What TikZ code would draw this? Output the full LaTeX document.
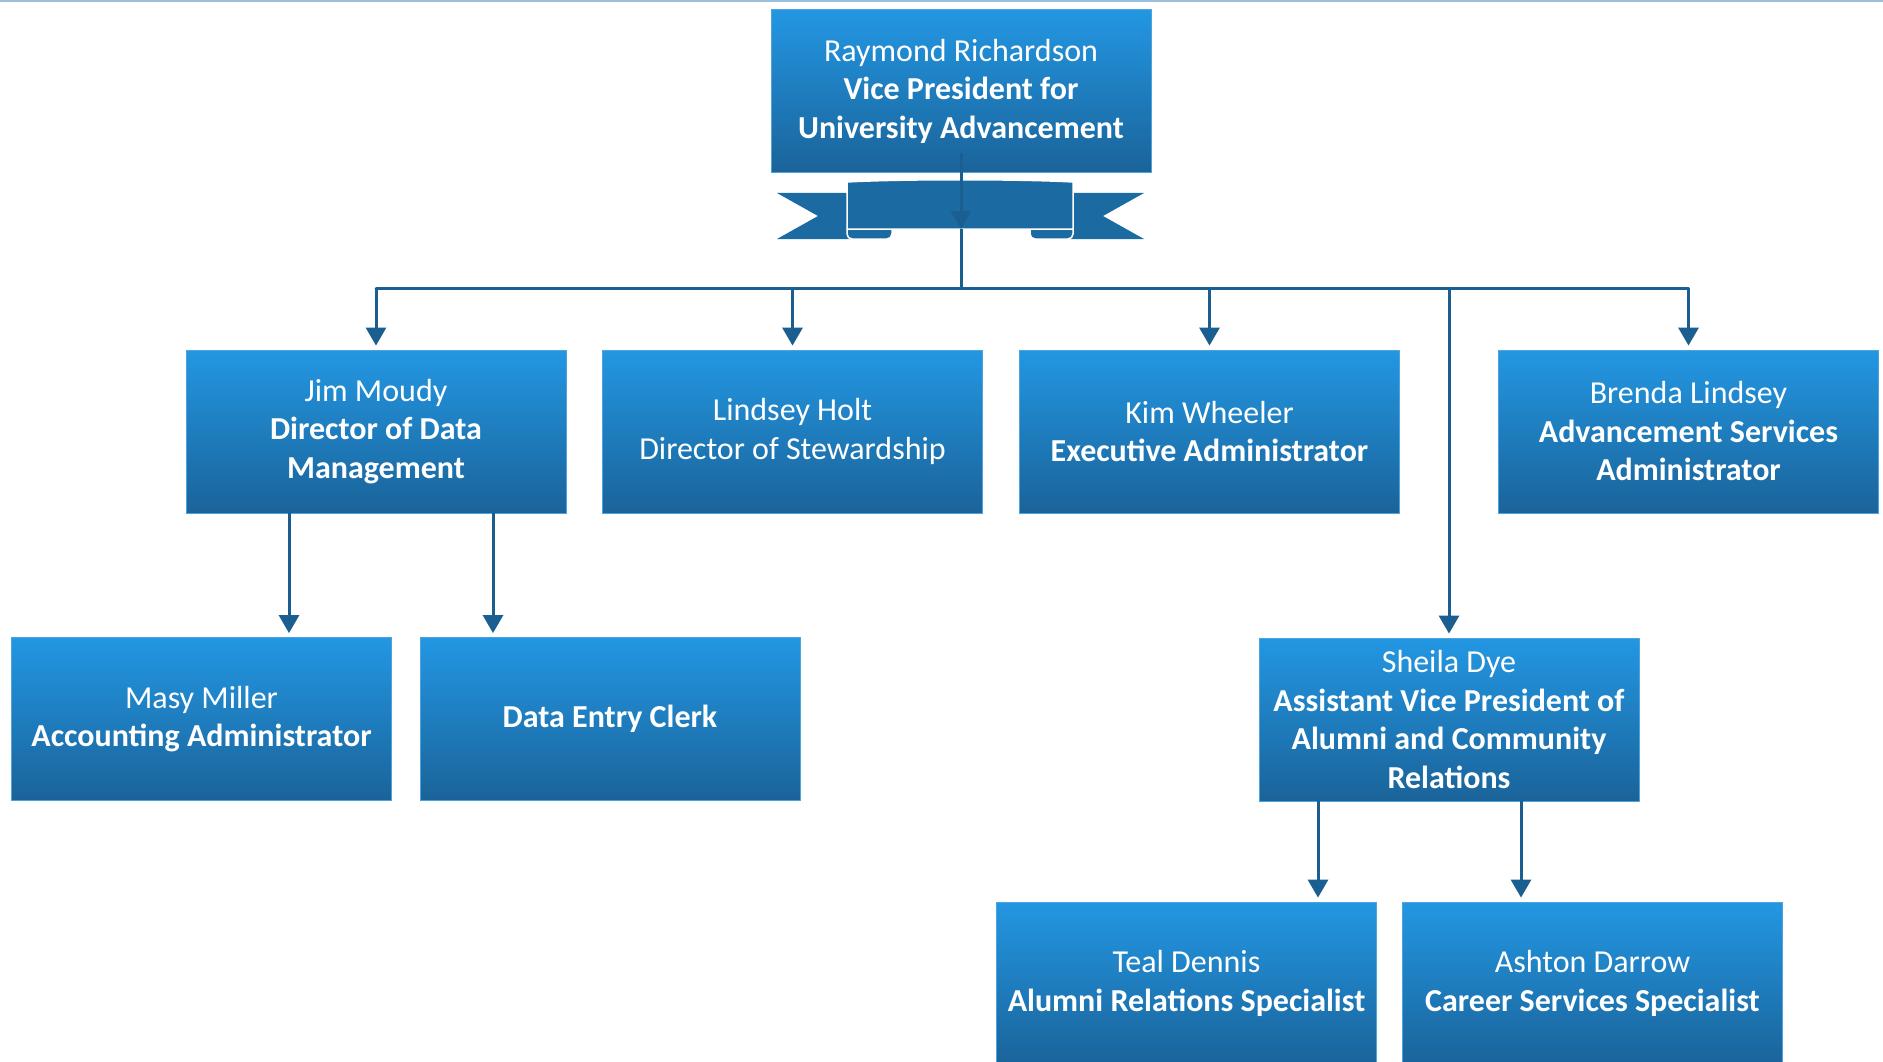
\documentclass[tikz,border=0pt]{standalone}
\usepackage{fontspec}
\setmainfont{Carlito}
\usetikzlibrary{arrows.meta}
\definecolor{boxtop}{HTML}{2397E3}
\definecolor{boxbot}{HTML}{1A6399}
\definecolor{boxedge}{HTML}{4FA3DD}
\definecolor{wireblue}{HTML}{1A5F90}
\definecolor{ribbonblue}{HTML}{1B6AA2}
\definecolor{rule}{HTML}{9AC0DC}
\tikzset{
  orgbox/.style={rectangle,top color=boxtop,bottom color=boxbot,draw=boxedge,line width=0.8pt,
    minimum width=380pt,minimum height=163pt,inner sep=0pt,text=white,align=center,
    font=\fontsize{32}{38.5}\selectfont},
  wire/.style={draw=wireblue,line width=3pt},
  link/.style={wire,-{Triangle[width=20pt,length=18pt]},shorten >=4pt},
}
\begin{document}
\begin{tikzpicture}[x=1pt,y=-1pt,line join=round]
\useasboundingbox (0,0) rectangle (1883,1062);
\draw[rule,line width=2pt] (0,1)--(1883,1);
% ribbon under the top box
\fill[ribbonblue] (777,193)--(870,193)--(870,239)--(777,239)--(818,216)--cycle;
\fill[ribbonblue] (1144,193)--(1050,193)--(1050,239)--(1144,239)--(1103,216)--cycle;
\draw[white,fill=ribbonblue,line width=1.5pt,rounded corners=5pt] (847,224) rectangle (892,239);
\draw[white,fill=ribbonblue,line width=1.5pt,rounded corners=5pt] (1030,224) rectangle (1073,239);
\draw[white,fill=ribbonblue,line width=1.5pt] (847,229)--(847,182) .. controls (900,179) and (1020,179) .. (1073,182)--(1073,229)--cycle;
\coordinate (knot) at (961,229);
\coordinate (bus) at (961,288);
% boxes
\node[orgbox] (vp) at (961,91) {Raymond Richardson\\\textbf{Vice President for}\\\textbf{University Advancement}};
\node[orgbox] (jim) at (376,431.5) {Jim Moudy\\\textbf{Director of Data}\\\textbf{Management}};
\node[orgbox] (lindsey) at (792.5,431.5) {Lindsey Holt\\Director of Stewardship};
\node[orgbox] (kim) at (1209.5,431.5) {Kim Wheeler\\\textbf{Executive Administrator}};
\node[orgbox] (brenda) at (1688.5,431.5) {Brenda Lindsey\\\textbf{Advancement Services}\\\textbf{Administrator}};
\node[orgbox] (masy) at (201.5,719) {Masy Miller\\\textbf{Accounting Administrator}};
\node[orgbox] (clerk) at (610,719) {\textbf{Data Entry Clerk}};
\node[orgbox] (sheila) at (1449,719.5) {Sheila Dye\\\textbf{Assistant Vice President of}\\\textbf{Alumni and Community}\\\textbf{Relations}};
\node[orgbox] (teal) at (1186.5,983.5) {Teal Dennis\\\textbf{Alumni Relations Specialist}};
\node[orgbox] (ashton) at (1592.5,983.5) {Ashton Darrow\\\textbf{Career Services Specialist}};
% connectors
\draw[link,shorten >=0pt] ([yshift=20pt]vp.south)--(knot);
\draw[wire] (knot)--(bus);
\draw[wire,line cap=round] (jim.north |- bus)--(brenda.north |- bus);
\foreach \n in {jim,lindsey,kim,sheila,brenda}
  \draw[link] (\n.north |- bus)--(\n.north);
\draw[link] ([xshift=-87pt]jim.south)--([xshift=-87pt]jim.south |- masy.north);
\draw[link] ([xshift=117pt]jim.south)--([xshift=117pt]jim.south |- clerk.north);
\draw[link] ([xshift=-131pt]sheila.south)--([xshift=-131pt]sheila.south |- teal.north);
\draw[link] ([xshift=72pt]sheila.south)--([xshift=72pt]sheila.south |- ashton.north);
\end{tikzpicture}
\end{document}
